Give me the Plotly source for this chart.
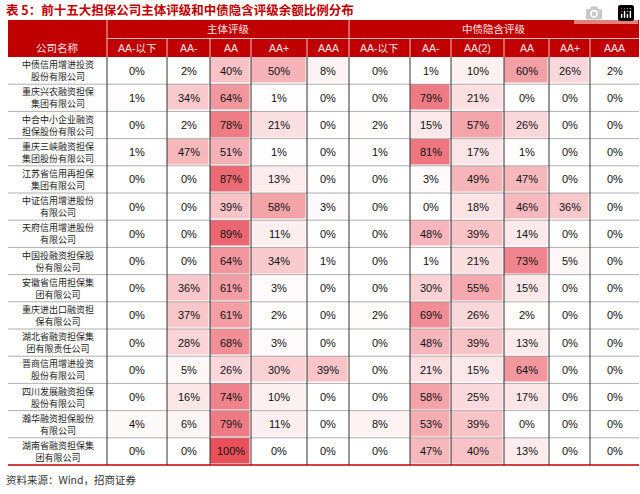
import plotly.graph_objects as go

companies = ["中债信用增进投资<br>股份有限公司", "重庆兴农融资担保<br>集团有限公司", "中合中小企业融资<br>担保股份有限公司",
             "重庆三峡融资担保<br>集团股份有限公司", "江苏省信用再担保<br>集团有限公司", "中证信用增进股份<br>有限公司",
             "天府信用增进股份<br>有限公司", "中国投融资担保股<br>份有限公司", "安徽省信用担保集<br>团有限公司",
             "重庆进出口融资担<br>保有限公司", "湖北省融资担保集<br>团有限责任公司", "晋商信用增进投资<br>股份有限公司",
             "四川发展融资担保<br>股份有限公司", "瀚华融资担保股份<br>有限公司", "湖南省融资担保集<br>团有限公司"]
columns = ["AA-以下", "AA-", "AA", "AA+", "AAA", "AA-以下", "AA-", "AA(2)", "AA", "AA+", "AAA"]
groups = ["主体评级", "中债隐含评级"]
values = [
    [0, 2, 40, 50, 8, 0, 1, 10, 60, 26, 2],
    [1, 34, 64, 1, 0, 0, 79, 21, 0, 0, 0],
    [0, 2, 78, 21, 0, 2, 15, 57, 26, 0, 0],
    [1, 47, 51, 1, 0, 1, 81, 17, 1, 0, 0],
    [0, 0, 87, 13, 0, 0, 3, 49, 47, 0, 0],
    [0, 0, 39, 58, 3, 0, 0, 18, 46, 36, 0],
    [0, 0, 89, 11, 0, 0, 48, 39, 14, 0, 0],
    [0, 0, 64, 34, 1, 0, 1, 21, 73, 5, 0],
    [0, 36, 61, 3, 0, 0, 30, 55, 15, 0, 0],
    [0, 37, 61, 2, 0, 2, 69, 26, 2, 0, 0],
    [0, 28, 68, 3, 0, 0, 48, 39, 13, 0, 0],
    [0, 5, 26, 30, 39, 0, 21, 15, 64, 0, 0],
    [0, 16, 74, 10, 0, 0, 58, 25, 17, 0, 0],
    [4, 6, 79, 11, 0, 8, 53, 39, 0, 0, 0],
    [0, 0, 100, 0, 0, 0, 47, 40, 13, 0, 0],
]

# layout geometry (pixel-like coordinates)
x_edges = [107, 167, 210, 251, 307, 349, 410, 451, 504, 549, 590, 639]
left = 8
hdr_top, hdr_mid, hdr_bot = 20, 38.5, 57
row_h = 27.2
y_edges = [hdr_bot + i * row_h for i in range(len(companies) + 1)]

fig = go.Figure()
fig.add_trace(go.Heatmap(
    z=values, x=x_edges, y=y_edges, zmin=0, zmax=100,
    colorscale=[[0, "#ffffff"], [0.5, "#f6b3b8"], [1, "#e8505c"]],
    showscale=False, xgap=1.5, ygap=1.5, hoverinfo="skip",
))

shapes = []
ann = []
font = dict(family="Liberation Sans, Noto Sans CJK SC", size=11, color="#111")
shapes.append(dict(type="rect", x0=left, x1=639, y0=hdr_top, y1=hdr_bot, fillcolor="#c00000", line_width=0, layer="below"))
shapes.append(dict(type="line", x0=x_edges[0], x1=639, y0=hdr_mid, y1=hdr_mid, line=dict(color="#f3c0c0", width=1)))
for xe in x_edges[:-1]:
    y0 = hdr_top if xe in (x_edges[0], x_edges[5]) else hdr_mid
    shapes.append(dict(type="line", x0=xe, x1=xe, y0=y0, y1=hdr_bot, line=dict(color="#f3c0c0", width=1)))
ann.append(dict(x=(x_edges[0] + x_edges[5]) / 2, y=(hdr_top + hdr_mid) / 2, text=groups[0]))
ann.append(dict(x=(x_edges[5] + x_edges[-1]) / 2, y=(hdr_top + hdr_mid) / 2, text=groups[1]))
ann.append(dict(x=(left + x_edges[0]) / 2, y=(hdr_mid + hdr_bot) / 2, text="公司名称"))
for j, c in enumerate(columns):
    ann.append(dict(x=(x_edges[j] + x_edges[j + 1]) / 2, y=(hdr_mid + hdr_bot) / 2, text=c))
for a in ann:
    a.update(showarrow=False, xref="x", yref="y", font=dict(family=font["family"], size=10.5, color="#fde4e4"))

for ye in y_edges[1:-1]:
    shapes.append(dict(type="line", x0=left, x1=639, y0=ye, y1=ye, line=dict(color="#9a9a9a", width=0.8)))
for xe in x_edges[:-1]:
    shapes.append(dict(type="line", x0=xe, x1=xe, y0=hdr_bot, y1=y_edges[-1], line=dict(color="#333", width=1)))
shapes.append(dict(type="line", x0=left, x1=639, y0=y_edges[-1], y1=y_edges[-1], line=dict(color="#c00000", width=1.5)))

for i, name in enumerate(companies):
    yc = (y_edges[i] + y_edges[i + 1]) / 2
    ann.append(dict(x=(left + x_edges[0]) / 2, y=yc, text=name, showarrow=False,
                    font=dict(family="Noto Sans CJK SC", size=9, color="#222")))
    for j, v in enumerate(values[i]):
        ann.append(dict(x=(x_edges[j] + x_edges[j + 1]) / 2, y=yc, text=f"{v}%", showarrow=False, font=font))

ann.append(dict(x=4, y=9, xanchor="left", text="<b>表 5：前十五大担保公司主体评级和中债隐含评级余额比例分布</b>", showarrow=False,
                font=dict(family="Noto Sans CJK SC", size=12.5, color="#c00000")))
ann.append(dict(x=4, y=y_edges[-1] + 14, xanchor="left", text="资料来源：Wind，招商证券", showarrow=False,
                font=dict(family="Noto Sans CJK SC", size=10.5, color="#333")))

fig.update_layout(
    width=640, height=494, margin=dict(l=0, r=0, t=0, b=0),
    plot_bgcolor="white", paper_bgcolor="white",
    xaxis=dict(range=[0, 640], visible=False, fixedrange=True),
    yaxis=dict(range=[494, 0], visible=False, fixedrange=True),
    shapes=shapes, annotations=ann,
)
fig.write_html("out.html", post_script="document.body.style.margin='0';document.body.style.overflow='hidden';")
